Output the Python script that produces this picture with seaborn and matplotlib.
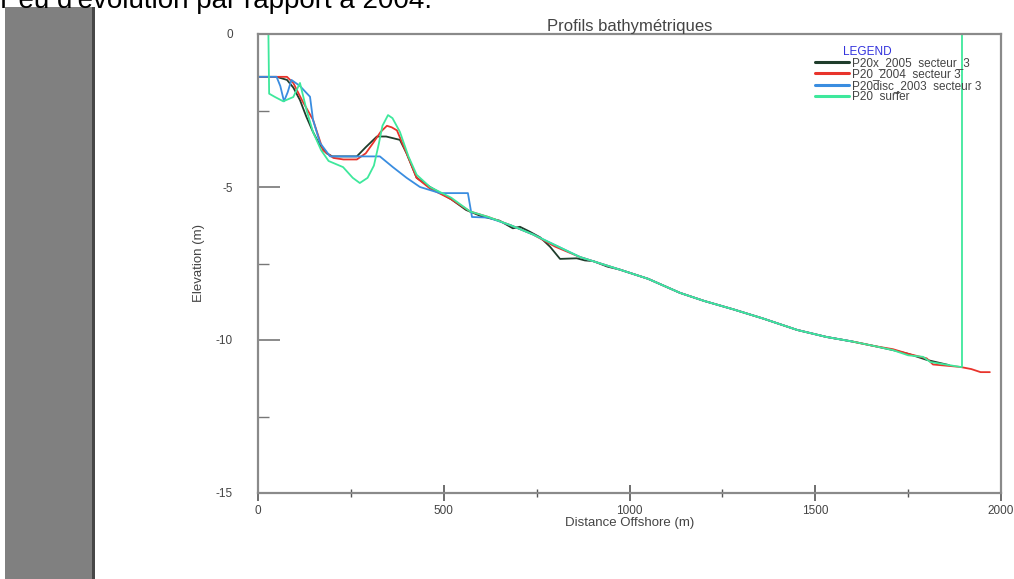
import matplotlib
matplotlib.use("Agg")
import matplotlib.pyplot as plt
from matplotlib.patches import Rectangle
from matplotlib.ticker import MultipleLocator
import numpy as np
import pandas as pd
import seaborn as sns

# Profile names as shown in the legend
profile_names = ["P20x_2005  secteur_3", "P20_2004  secteur 3",
                 "P20disc_2003  secteur 3", "P20  surfer"]
profile_colors = ["#1f3d2c", "#e8342c", "#3a8de0", "#3ee89c"]

# Distance offshore (m) / elevation (m) for each survey
dist_2005 = [0, 50, 78, 95, 113, 130, 148, 165, 185, 200, 266, 290, 320, 345, 382,
             400, 427, 463, 520, 560, 600, 650, 686, 705, 730, 760, 786, 813, 858,
             880, 902, 940, 974, 1050, 1136, 1200, 1280, 1360, 1451, 1530, 1600,
             1660, 1709, 1750, 1800, 1860]
elev_2005 = [-1.4, -1.4, -1.5, -1.75, -2.16, -2.7, -3.2, -3.6, -3.9, -4.0, -4.0,
             -3.7, -3.35, -3.35, -3.46, -3.9, -4.7, -5.0, -5.4, -5.75, -5.95, -6.1,
             -6.35, -6.3, -6.45, -6.65, -6.95, -7.35, -7.33, -7.4, -7.42, -7.6,
             -7.7, -8.0, -8.46, -8.72, -9.0, -9.3, -9.67, -9.9, -10.05, -10.2,
             -10.33, -10.45, -10.65, -10.82]

dist_2004 = [0, 50, 78, 95, 120, 148, 175, 203, 230, 266, 290, 310, 330, 347, 360,
             374, 400, 427, 463, 520, 571, 620, 680, 740, 800, 867, 974, 1050,
             1136, 1200, 1280, 1360, 1451, 1530, 1600, 1660, 1709, 1750, 1800,
             1817, 1863, 1890, 1920, 1945, 1970]
elev_2004 = [-1.4, -1.4, -1.4, -1.6, -2.2, -2.8, -3.8, -4.05, -4.1, -4.1, -3.9,
             -3.56, -3.2, -3.0, -3.05, -3.15, -3.9, -4.7, -5.05, -5.4, -5.8, -5.98,
             -6.25, -6.55, -6.95, -7.29, -7.7, -8.0, -8.46, -8.72, -9.0, -9.3,
             -9.67, -9.9, -10.05, -10.2, -10.3, -10.45, -10.6, -10.8, -10.85,
             -10.88, -10.95, -11.05, -11.05]

dist_2003 = [0, 50, 60, 70, 80, 90, 113, 140, 148, 167, 194, 250, 328, 363, 400,
             436, 490, 565, 576, 620, 680, 740, 800, 867, 974, 1050, 1136, 1200,
             1280, 1360, 1451, 1530, 1600]
elev_2003 = [-1.4, -1.4, -1.7, -2.2, -1.9, -1.5, -1.7, -2.05, -2.8, -3.56, -4.0,
             -4.0, -4.0, -4.35, -4.7, -5.0, -5.2, -5.2, -5.98, -6.0, -6.25, -6.55,
             -6.9, -7.29, -7.7, -8.0, -8.46, -8.72, -9.0, -9.3, -9.67, -9.9, -10.05]

dist_surfer = [0, 28, 30, 46, 68, 95, 113, 131, 148, 170, 190, 229, 255, 274, 295,
               312, 325, 335, 350, 362, 382, 405, 427, 463, 520, 571, 620, 680,
               740, 800, 867, 974, 1050, 1136, 1200, 1280, 1360, 1451, 1530, 1600,
               1660, 1709, 1750, 1790, 1810, 1850, 1890, 1895, 1895]
elev_surfer = [0, 0, -1.95, -2.06, -2.2, -2.06, -1.6, -2.5, -3.2, -3.8, -4.15,
               -4.35, -4.7, -4.87, -4.7, -4.3, -3.6, -3.0, -2.65, -2.75, -3.2, -4.0,
               -4.6, -5.0, -5.35, -5.8, -5.98, -6.25, -6.55, -6.9, -7.29, -7.7,
               -8.0, -8.46, -8.72, -9.0, -9.3, -9.67, -9.9, -10.05, -10.2, -10.33,
               -10.5, -10.55, -10.72, -10.8, -10.88, -10.88, 0]

x_ticks = [0, 500, 1000, 1500, 2000]
y_ticks = [0, -5, -10, -15]

frames = []
for name, d, e in zip(profile_names,
                      [dist_2005, dist_2004, dist_2003, dist_surfer],
                      [elev_2005, elev_2004, elev_2003, elev_surfer]):
    frames.append(pd.DataFrame({"distance": d, "elevation": e, "profil": name,
                                "order": np.arange(len(d))}))
df = pd.concat(frames, ignore_index=True)

sns.set_theme(style="white")
plt.rcParams["font.family"] = ["Liberation Sans", "DejaVu Sans"]
plt.rcParams["axes.unicode_minus"] = False

fig = plt.figure(figsize=(10.14, 5.79), dpi=100)
W, H = 1014, 579

# Grey side band with its darker edge
fig.patches.append(Rectangle((5 / W, 0), 87 / W, 1 - 7 / H, transform=fig.transFigure,
                             facecolor="#808080", edgecolor="none", zorder=0))
fig.patches.append(Rectangle((92 / W, 0), 3 / W, 1 - 7 / H, transform=fig.transFigure,
                             facecolor="#474747", edgecolor="none", zorder=0))

fig.text(0 / W, 1 - 8 / H, "Peu d'évolution par rapport à 2004.", fontsize=20,
         color="black", va="baseline", ha="left", zorder=5)

ax = fig.add_axes([258 / W, 1 - 493 / H, 743 / W, 459 / H])
sns.lineplot(data=df, x="distance", y="elevation", hue="profil",
             hue_order=profile_names, palette=profile_colors, sort=False,
             estimator=None, units="profil", linewidth=1.3, ax=ax, legend=True)

ax.set_xlim(0, 2000)
ax.set_ylim(-15, 0)
ax.set_xticks(x_ticks)
ax.set_yticks(y_ticks)
ax.xaxis.set_minor_locator(MultipleLocator(250))
ax.yaxis.set_minor_locator(MultipleLocator(2.5))
ax.tick_params(axis="x", which="major", direction="inout", length=11, width=1.2,
               color="#555555", labelsize=8.5, labelcolor="#444444", pad=3, bottom=True)
ax.tick_params(axis="x", which="minor", direction="inout", length=6, width=1.0,
               color="#555555", bottom=True)
ax.tick_params(axis="y", which="major", direction="in", length=16, width=1.2,
               color="#777777", labelsize=8.5, labelcolor="#444444", pad=18, left=True)
ax.tick_params(axis="y", which="minor", direction="in", length=8, width=1.0,
               color="#777777", left=True)
for s in ax.spines.values():
    s.set_visible(True)
    s.set_color("#8a8a8a")
    s.set_linewidth(1.6)

ax.set_xlabel("Distance Offshore (m)", fontsize=9.5, color="#444444", labelpad=0)
ax.set_ylabel("Elevation (m)", fontsize=9.5, color="#444444")
ax.yaxis.set_label_coords((205 - 258) / 743, 0.5)
ax.set_title("Profils bathymétriques", fontsize=12, color="#444444", pad=2)

handles, labels = ax.get_legend_handles_labels()
leg = ax.legend(handles, labels, loc="upper left",
                bbox_to_anchor=(815 / W, 1 - 57 / H), bbox_transform=fig.transFigure,
                frameon=False, fontsize=8.5, handlelength=2.9, handletextpad=0.25,
                labelspacing=-0.05, borderaxespad=0, borderpad=0)
for t in leg.get_texts():
    t.set_color("#444444")
for h in leg.legend_handles:
    h.set_linewidth(2.2)
fig.text(843 / W, 1 - 52 / H, "LEGEND", fontsize=8.5, color="#3333dd", va="center",
         ha="left")

fig.savefig("out.png", dpi=100)
